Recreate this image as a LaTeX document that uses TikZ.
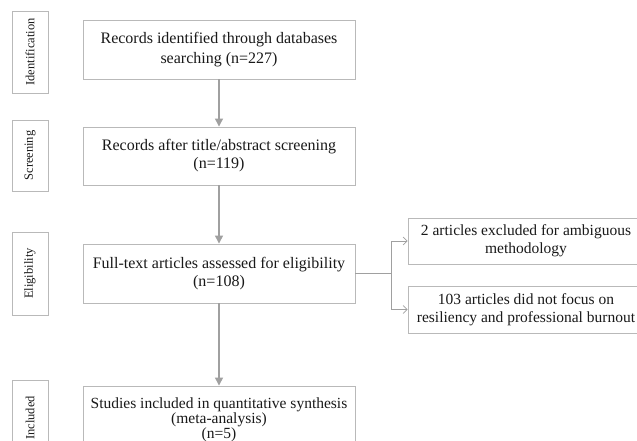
\documentclass[tikz,border=0pt]{standalone}
\usepackage{fontspec}
\setmainfont{Liberation Serif}
\usetikzlibrary{arrows.meta}
\definecolor{boxgray}{RGB}{185,185,185}
\definecolor{arrgray}{RGB}{160,160,160}
\definecolor{txt}{RGB}{25,25,25}
\begin{document}
\begin{tikzpicture}[x=1pt,y=-1pt,
  box/.style={draw=boxgray,line width=0.9pt,minimum width=272pt,inner sep=0pt,align=center,text=txt,font=\fontsize{16}{20}\selectfont},
  rbox/.style={draw=boxgray,line width=0.9pt,minimum width=236pt,inner sep=0pt,align=center,text=txt,font=\fontsize{15.5}{18}\selectfont},
  side/.style={draw=boxgray,line width=0.9pt,minimum height=36pt,inner sep=0pt,rotate=90,text=txt,font=\fontsize{12.5}{14}\selectfont},
  mainarrow/.style={draw=arrgray,line width=1.3pt,-{Triangle[length=8pt,width=8pt]}},
  branch/.style={draw=arrgray,line width=0.8pt},
  brancharrow/.style={draw=arrgray,line width=0.8pt,-{Straight Barb[length=4pt,width=8pt,line width=0.7pt]}}
]
\useasboundingbox[fill=white] (0,0) rectangle (637,441);

% phase labels
\node[side,minimum width=82pt] (s1) at (30,52) {Identification};
\node[side,minimum width=71pt] (s2) at (30,155.5) {Screening};
\node[side,minimum width=83pt] (s3) at (30,273.5) {Eligibility};
\node[side,minimum width=76pt] (s4) at (30,418) {Included};

% main column
\node[box,minimum height=59pt] (b1) at (219,49.5) {Records identified through databases\\searching (n=227)};
\node[box,minimum height=58pt,font=\fontsize{16}{18}\selectfont] (b2) at (219,156) {Records after title/abstract screening\\(n=119)};
\node[box,minimum height=59pt,font=\fontsize{16}{17.5}\selectfont] (b3) at (219,273.5) {Full-text articles assessed for eligibility\\(n=108)};
\node[box,minimum height=68pt,font=\fontsize{15.5}{15}\selectfont] (b4) at (219,420) {Studies included in quantitative synthesis\\(meta-analysis)\\(n=5)};

% exclusions
\node[rbox,minimum height=46pt] (r1) at (526,241) {2 articles excluded for ambiguous\\methodology};
\node[rbox,minimum height=47pt] (r2) at (526,309.5) {103 articles did not focus on\\resiliency and professional burnout};

% connectors
\draw[mainarrow] (b1) -- (b2);
\draw[mainarrow] (b2) -- (b3);
\draw[mainarrow] (b3) -- (b4);

\coordinate (j) at (391,273.5);
\draw[branch] (b3.east) -- (j);
\draw[brancharrow] (j) |- (r1.west);
\draw[brancharrow] (j) |- (r2.west);
\end{tikzpicture}
\end{document}
